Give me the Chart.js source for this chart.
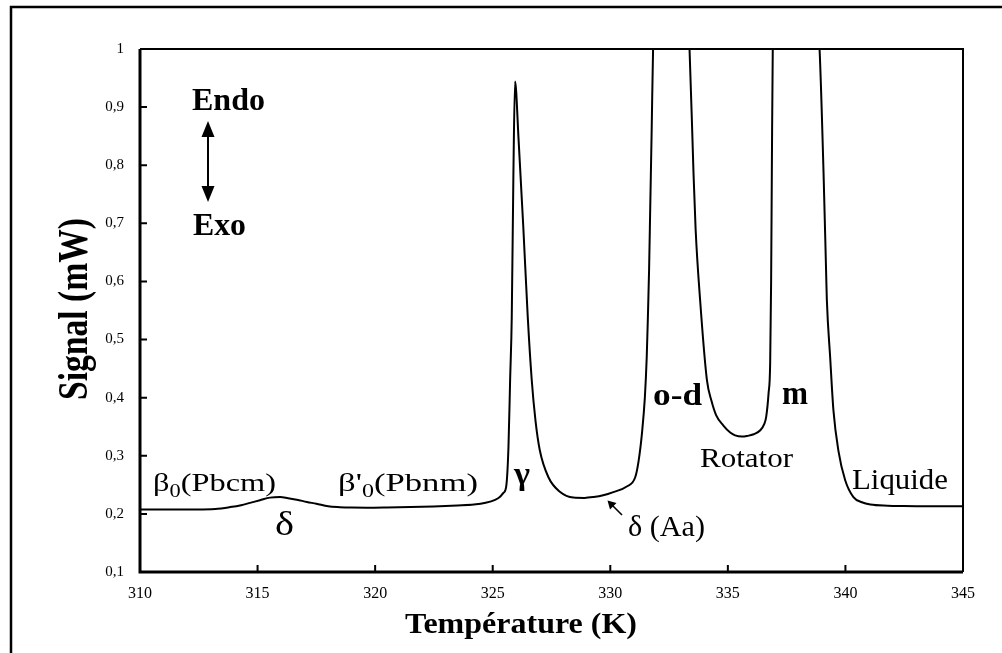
<!DOCTYPE html>
<html>
<head>
<meta charset="utf-8">
<script src="https://cdn.jsdelivr.net/npm/chart.js@4.4.0/dist/chart.umd.min.js"></script>
<style>
  html, body { margin: 0; padding: 0; background: #fff; }
  #wrap { position: relative; width: 1002px; height: 653px; }
</style>
</head>
<body>
<div id="wrap"><canvas id="c" width="1002" height="653"></canvas></div>
<script>
// ---- Data ----
const temperature = [310.0, 311.0, 312.4, 313.2, 313.83, 314.3, 314.68, 315.1, 315.53, 315.96,
  316.3, 316.67, 317.1, 317.5, 318.0, 318.5, 319.0, 319.64, 320.5, 321.5,
  322.48, 323.5, 324.2, 324.7, 325.1, 325.3, 325.45, 325.57, 325.67, 325.74,
  325.81, 325.88, 325.95, 326.1, 326.3, 326.49, 326.66, 326.82, 327.0, 327.37,
  327.87, 328.43, 328.9, 329.29, 329.7, 330.13, 330.7, 331.06, 331.2, 331.35,
  331.47, 331.55, 331.6, 331.65, 331.7, 331.76, 331.82, 332.6, 333.37, 333.54,
  333.63, 333.82, 334.11, 334.3, 334.5, 334.81, 335.1, 335.31, 335.6,
  335.81, 336.1, 336.38, 336.55, 336.63, 336.73, 336.8, 336.84, 336.87, 336.91,
  337.9, 338.9, 339.07, 339.18, 339.21, 339.35, 339.49, 339.7, 339.99, 340.34,
  340.7, 341.06, 341.8, 342.47, 343.5, 345.0];
const signal = [0.2077, 0.2077, 0.2077, 0.2085, 0.2117, 0.215, 0.219, 0.2235, 0.228, 0.229,
  0.227, 0.2245, 0.2205, 0.2175, 0.213, 0.2115, 0.2108, 0.2106, 0.211, 0.2118,
  0.2129, 0.2145, 0.216, 0.219, 0.224, 0.229, 0.236, 0.246, 0.315, 0.43,
  0.539, 0.786, 0.944, 0.844, 0.694, 0.539, 0.43, 0.36, 0.31, 0.263,
  0.2375, 0.228, 0.2275, 0.229, 0.232, 0.2375, 0.247, 0.263, 0.29, 0.34,
  0.40, 0.47, 0.54, 0.62, 0.73, 0.86, 1.0, 1.5, 1.0, 0.786,
  0.689, 0.568, 0.43, 0.395, 0.37, 0.352, 0.34, 0.335, 0.333,
  0.334, 0.337, 0.344, 0.355, 0.367, 0.407, 0.46, 0.6, 0.786, 1.0,
  1.5, 1.0, 0.786, 0.614, 0.568, 0.47, 0.378, 0.309, 0.258, 0.229,
  0.22, 0.216, 0.214, 0.2134, 0.213, 0.213];
const xTickValues = [310, 315, 320, 325, 330, 335, 340, 345];
const yTickValues = [0.1, 0.2, 0.3, 0.4, 0.5, 0.6, 0.7, 0.8, 0.9, 1];
const yTickLabels = ['0,1', '0,2', '0,3', '0,4', '0,5', '0,6', '0,7', '0,8', '0,9', '1'];
const xTitle = 'Température (K)';
const yTitle = 'Signal (mW)';

const SERIF = '"Liberation Serif", "Times New Roman", Times, serif';

function fitText(ctx, parts, left, right, baseline) {
  let total = 0;
  parts.forEach(p => { ctx.font = p.font; p.w = ctx.measureText(p.t).width; total += p.w; });
  const sx = (right - left) / total;
  ctx.save();
  ctx.translate(left, baseline);
  ctx.scale(sx, 1);
  ctx.textAlign = 'left';
  ctx.textBaseline = 'alphabetic';
  ctx.fillStyle = '#000';
  let x = 0;
  parts.forEach(p => { ctx.font = p.font; ctx.fillText(p.t, x, p.dy || 0); x += p.w; });
  ctx.restore();
}

const decor = {
  id: 'decor',
  afterDraw(chart) {
    const ctx = chart.ctx;
    const a = chart.chartArea;
    const xs = chart.scales.x, ys = chart.scales.y;
    ctx.save();
    ctx.strokeStyle = '#000';
    ctx.fillStyle = '#000';
    // outer frame (left + top)
    ctx.lineWidth = 2.5;
    ctx.beginPath();
    ctx.moveTo(11, 653); ctx.lineTo(11, 7); ctx.lineTo(1002, 7);
    ctx.stroke();
    // plot frame
    ctx.lineWidth = 2;
    ctx.beginPath();
    ctx.moveTo(a.left, a.top); ctx.lineTo(a.right, a.top); ctx.lineTo(a.right, a.bottom);
    ctx.stroke();
    ctx.lineWidth = 3;
    ctx.beginPath();
    ctx.moveTo(a.left, a.top); ctx.lineTo(a.left, a.bottom); ctx.lineTo(a.right, a.bottom);
    ctx.stroke();
    // inward ticks
    ctx.lineWidth = 2;
    ctx.beginPath();
    xTickValues.forEach(v => { const p = xs.getPixelForValue(v); ctx.moveTo(p, a.bottom); ctx.lineTo(p, a.bottom - 7); });
    yTickValues.forEach(v => { const p = ys.getPixelForValue(v); ctx.moveTo(a.left, p); ctx.lineTo(a.left + 7, p); });
    ctx.stroke();

    // Endo / Exo arrow
    ctx.lineWidth = 2;
    ctx.beginPath(); ctx.moveTo(208, 134); ctx.lineTo(208, 190); ctx.stroke();
    ctx.beginPath(); ctx.moveTo(208, 121); ctx.lineTo(201.5, 137); ctx.lineTo(214.5, 137); ctx.closePath(); ctx.fill();
    ctx.beginPath(); ctx.moveTo(208, 202); ctx.lineTo(201.5, 186); ctx.lineTo(214.5, 186); ctx.closePath(); ctx.fill();

    // small arrow to δ (Aa)
    ctx.lineWidth = 1.6;
    ctx.beginPath(); ctx.moveTo(622, 515); ctx.lineTo(609, 502); ctx.stroke();
    ctx.beginPath(); ctx.moveTo(607.5, 500.5); ctx.lineTo(616.5, 503); ctx.lineTo(610, 509.5); ctx.closePath(); ctx.fill();

    const B = (s) => 'bold ' + s + 'px ' + SERIF;
    const R = (s) => s + 'px ' + SERIF;
    fitText(ctx, [{t: 'Endo', font: B(31)}], 192, 265, 110);
    fitText(ctx, [{t: 'Exo', font: B(31)}], 193, 246, 235);
    fitText(ctx, [{t: 'β', font: R(26)}, {t: '0', font: R(18), dy: 6}, {t: '(Pbcm)', font: R(26)}], 153, 276, 491);
    fitText(ctx, [{t: 'β\'', font: R(26)}, {t: '0', font: R(18), dy: 6}, {t: '(Pbnm)', font: R(26)}], 338, 478, 491);
    fitText(ctx, [{t: 'δ', font: R(34)}], 275, 294, 535);
    fitText(ctx, [{t: 'γ', font: B(32)}], 514, 530, 484);
    fitText(ctx, [{t: 'δ (Aa)', font: R(30)}], 628, 705, 536);
    fitText(ctx, [{t: 'o-d', font: B(31)}], 653, 702, 405);
    fitText(ctx, [{t: 'm', font: B(34)}], 782, 808, 404);
    fitText(ctx, [{t: 'Rotator', font: R(27)}], 700, 793, 467);
    fitText(ctx, [{t: 'Liquide', font: R(30)}], 852, 948, 489);
    // axis titles
    fitText(ctx, [{t: xTitle, font: B(30)}], 405, 637, 633);
    ctx.save();
    ctx.translate(87, 400);
    ctx.rotate(-Math.PI / 2);
    ctx.font = B(33);
    const w = ctx.measureText(yTitle).width;
    ctx.scale(182 / w, 1.3);
    ctx.textAlign = 'left';
    ctx.textBaseline = 'alphabetic';
    ctx.fillText(yTitle, 0, 0);
    ctx.restore();
    ctx.restore();
  }
};

new Chart(document.getElementById('c'), {
  type: 'line',
  data: {
    datasets: [{
      data: temperature.map((t, i) => ({x: t, y: signal[i]})),
      borderColor: '#000',
      borderWidth: 2,
      pointRadius: 0,
      fill: false,
      cubicInterpolationMode: 'monotone'
    }]
  },
  options: {
    responsive: false,
    animation: false,
    layout: { padding: { left: 10, top: 49, right: 39, bottom: 0 } },
    plugins: { legend: { display: false }, tooltip: { enabled: false } },
    scales: {
      x: {
        type: 'linear', min: 310, max: 345,
        afterBuildTicks: (s) => { s.ticks = xTickValues.map(v => ({value: v})); },
        afterFit: (s) => { s.height = 81; },
        grid: { display: false, drawTicks: false },
        border: { display: false },
        ticks: { color: '#000', padding: 12, maxRotation: 0, autoSkip: false,
                 font: { family: SERIF, size: 16 },
                 callback: (v) => String(v) }
      },
      y: {
        type: 'linear', min: 0.1, max: 1,
        afterBuildTicks: (s) => { s.ticks = yTickValues.map(v => ({value: v})); },
        afterFit: (s) => { s.width = 130; },
        grid: { display: false, drawTicks: false },
        border: { display: false },
        ticks: { color: '#000', padding: 16, autoSkip: false,
                 font: { family: SERIF, size: 15 },
                 callback: (v) => { const i = yTickValues.findIndex(t => Math.abs(t - v) < 1e-6); return i >= 0 ? yTickLabels[i] : ''; } }
      }
    }
  },
  plugins: [decor]
});
</script>
</body>
</html>
